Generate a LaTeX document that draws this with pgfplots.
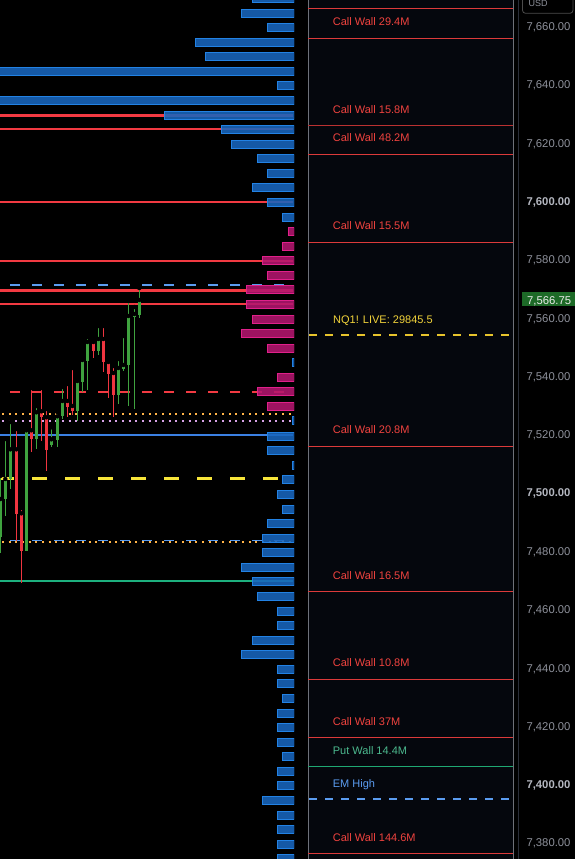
\documentclass[border=0pt]{standalone}
\usepackage{fontspec}
\setmainfont{Liberation Sans}
\usepackage{pgfplots}
\usepackage{pgfplotstable}
\pgfplotsset{compat=1.18}

\definecolor{panel}{HTML}{05070D}
\definecolor{pborder}{HTML}{6E7179}
\definecolor{sep}{HTML}{2A2E39}
\definecolor{wallred}{HTML}{DC3A3A}
\definecolor{walltext}{HTML}{F0433F}
\definecolor{lred}{HTML}{F23A42}
\definecolor{lgreen}{HTML}{1DB07E}
\definecolor{pgreen}{HTML}{1FA872}
\definecolor{lblue}{HTML}{3B80E2}
\definecolor{dblue}{HTML}{5B9CF0}
\definecolor{lyellow}{HTML}{F7E53A}
\definecolor{pyellow}{HTML}{E8C42C}
\definecolor{tyellow}{HTML}{F2D33A}
\definecolor{orng}{HTML}{FFB347}
\definecolor{lav}{HTML}{D6A2E6}
\definecolor{cgreen}{HTML}{3FA33F}
\definecolor{cred}{HTML}{F03540}
\definecolor{vblue}{HTML}{1866BE}
\definecolor{vblueb}{HTML}{2282E4}
\definecolor{vpink}{HTML}{B3166F}
\definecolor{vpinkb}{HTML}{E0208A}
\definecolor{tickc}{HTML}{8E919B}
\definecolor{tickb}{HTML}{B4B7C0}
\definecolor{pricebox}{HTML}{1D6A27}

% candles (pixel rows, y down): x, wick top, body top, body bottom, wick bottom
\pgfplotstableread{
x wt bt bb wb
0.5 476 499 537 553
5.3 439 479 499 515.7
10.3 422 449.3 479 489
26.3 428 430.3 550.7 551
36.3 406 412.3 438.7 448.7
51.3 427.3 439.3 444.7 446.7
57.3 412 416.3 439.7 446.7
62.3 387 401 416.3 418.7
77.3 378 381 411.3 421.3
82.3 358 360 382 392
87.3 337 342 361 390
98.3 326 339 351 355
118.3 359 368 395 404
123.3 336 365 369 371
128.3 301 316 365 406
134.3 307 314 317 409
139.3 288 300 315 318
}\greencandles
\pgfplotstableread{
x wt bt bb wb
16.3 429 449.3 514.3 541
21.3 508 513.3 550.7 582.7
31.3 388 430.3 438.7 451.7
41.3 388 411.3 417.3 440.7
46.3 409 417.3 449.7 470.7
67.3 384 401 406.5 416.7
72.3 368 406 411.3 415.3
93.3 339 342 351 358
103.3 326 339 362 372
108.3 359 362 374 398
113.3 366 373 395 417
}\redcandles

% volume profile: row centre, bar length
\pgfplotstableread{
y len
-1.3 41.7
13.5 52.7
27.8 26.7
42.5 98.7
56.8 88.7
71.8 300
85.8 16.7
100.8 300
115.2 129.7
129.7 72.7
144.3 62.7
158.8 36.7
173.3 26.7
187.8 41.7
202.8 26.7
217 11.7
362.8 1.2
420.5 1.2
436 26.7
450.5 26.7
465 1.2
479.5 11.7
494 16.7
509 11.7
523 26.7
538.2 31.7
552.5 31.7
567.2 52.7
581.5 41.7
596.2 36.7
611 16.7
625.2 16.7
640 41.7
654.5 52.7
669 16.7
683.5 16.7
698 11.7
713 16.7
727 16.7
742 16.7
756.5 11.7
771 16.7
785.5 16.7
800 31.7
815 16.7
829 16.7
844 16.7
858.5 16.7
}\bluebars
\pgfplotstableread{
y len
231.8 5.7
246.3 11.7
260.8 31.7
275.3 26.7
289.8 47.7
304.8 47.7
319 41.7
333.8 52.7
348.2 26.7
377.3 16.7
391.8 36.7
406.8 26.7
}\pinkbars

\begin{document}
\begin{tikzpicture}[font=\fontsize{11}{13}\selectfont]
\path[use as bounding box] (0,0) rectangle (575pt,859pt);
\begin{axis}[
  at={(0,0)}, anchor=south west,
  width=575pt, height=859pt, scale only axis,
  xmin=0, xmax=575, ymin=0, ymax=859, y dir=reverse,
  axis line style={draw=none},
  axis background/.style={fill=black},
  xtick=\empty,
  ytick={27.3,85.6,143.9,202.2,260.6,318.9,377.2,435.5,493.8,552.1,610.5,668.8,727.1,785.4,843.7},
  yticklabels={{7,660.00},{7,640.00},{7,620.00},{\textbf{\color{tickb}7,600.00}},{7,580.00},{7,560.00},{7,540.00},{7,520.00},{\textbf{\color{tickb}7,500.00}},{7,480.00},{7,460.00},{7,440.00},{7,420.00},{\textbf{\color{tickb}7,400.00}},{7,380.00}},
  yticklabel pos=right,
  major tick length=0pt,
  yticklabel style={anchor=west, xshift=-52pt, text=tickc, font=\fontsize{11.3}{13}\selectfont},
  clip=true,
]
% right panel background and borders
\fill[panel] (axis cs:308,-2) rectangle (axis cs:513,861);
\addplot[pborder, line width=1.3pt] coordinates {(308.5,-2) (308.5,861)};
\addplot[pborder, line width=1.3pt] coordinates {(513.5,-2) (513.5,861)};
\addplot[sep, line width=1pt] coordinates {(518.5,-2) (518.5,861)};

% right panel levels
\addplot[wallred, line width=1.4pt] coordinates {(308,8.5) (513,8.5)};
\addplot[wallred, line width=1.4pt] coordinates {(308,38.5) (513,38.5)};
\addplot[wallred!85!black, line width=1.3pt] coordinates {(308,125.5) (513,125.5)};
\addplot[wallred, line width=1.4pt] coordinates {(308,154.5) (513,154.5)};
\addplot[wallred, line width=1.4pt] coordinates {(308,242.5) (513,242.5)};
\addplot[pyellow, line width=2pt, dash pattern=on 8pt off 8pt] coordinates {(309,334.5) (513,334.5)};
\addplot[wallred, line width=1.4pt] coordinates {(308,446.5) (513,446.5)};
\addplot[wallred, line width=1.4pt] coordinates {(308,591.5) (513,591.5)};
\addplot[wallred, line width=1.4pt] coordinates {(308,679.5) (513,679.5)};
\addplot[wallred, line width=1.4pt] coordinates {(308,737.5) (513,737.5)};
\addplot[pgreen, line width=1.4pt] coordinates {(308,766.5) (513,766.5)};
\addplot[dblue, line width=2pt, dash pattern=on 8pt off 8pt] coordinates {(309,799) (513,799)};
\addplot[wallred, line width=1.4pt] coordinates {(308,853.5) (513,853.5)};

\node[anchor=base west, inner sep=0pt, text=walltext] at (axis cs:332.7,25.3) {Call Wall 29.4M};
\node[anchor=base west, inner sep=0pt, text=walltext] at (axis cs:332.7,113) {Call Wall 15.8M};
\node[anchor=base west, inner sep=0pt, text=walltext] at (axis cs:332.7,141.7) {Call Wall 48.2M};
\node[anchor=base west, inner sep=0pt, text=walltext] at (axis cs:332.7,229) {Call Wall 15.5M};
\node[anchor=base west, inner sep=0pt, text=tyellow] at (axis cs:333,323.3) {NQ1! LIVE: 29845.5};
\node[anchor=base west, inner sep=0pt, text=walltext] at (axis cs:332.7,433) {Call Wall 20.8M};
\node[anchor=base west, inner sep=0pt, text=walltext] at (axis cs:332.7,579.7) {Call Wall 16.5M};
\node[anchor=base west, inner sep=0pt, text=walltext] at (axis cs:332.7,666) {Call Wall 10.8M};
\node[anchor=base west, inner sep=0pt, text=walltext] at (axis cs:332.7,725.3) {Call Wall 37M};
\node[anchor=base west, inner sep=0pt, text=pgreen!80!white] at (axis cs:332.7,754.3) {Put Wall 14.4M};
\node[anchor=base west, inner sep=0pt, text=dblue] at (axis cs:332.7,787.7) {EM High};
\node[anchor=base west, inner sep=0pt, text=walltext] at (axis cs:332.7,841.3) {Call Wall 144.6M};

% price scale extras
\fill[pricebox] (axis cs:522.3,292.3) rectangle (axis cs:576,305.9);
\node[anchor=base west, inner sep=0pt, text=white!92!black, font=\fontsize{11.3}{13}\selectfont] at (axis cs:527,304.3) {7,566.75};
\draw[rounded corners=3pt, draw=white!30!black, fill=black, line width=0.8pt] (axis cs:522.5,-8) rectangle (axis cs:573,13.3);
\node[anchor=base, inner sep=0pt, text=tickc, font=\fontsize{9}{10}\selectfont] at (axis cs:538,7) {USD};

% left panel levels
\addplot[lred, line width=3pt] coordinates {(0,115.5) (293,115.5)};
\addplot[lred, line width=2.2pt] coordinates {(0,128.7) (293,128.7)};
\addplot[lred, line width=2.2pt] coordinates {(0,201.7) (293,201.7)};
\addplot[lred, line width=2.2pt] coordinates {(0,261) (293,261)};
\addplot[dblue, line width=2pt, dash pattern=on 10pt off 12pt] coordinates {(10,284.7) (284,284.7)};
\addplot[lred, line width=3pt] coordinates {(0,290.3) (293,290.3)};
\addplot[lred, line width=2.2pt] coordinates {(0,303.7) (293,303.7)};
\addplot[lred, line width=2pt, dash pattern=on 10pt off 12pt] coordinates {(10,392) (284,392)};
\addplot[orng, line width=2pt, dash pattern=on 2pt off 4.67pt] coordinates {(2,414) (293,414)};
\addplot[lav, line width=2pt, dash pattern=on 2pt off 4.67pt] coordinates {(2,421) (293,421)};
\addplot[lblue, line width=2.2pt] coordinates {(0,434.8) (293,434.8)};
\addplot[lyellow, line width=3pt, dash pattern=on 15pt off 18pt] coordinates {(-1,478.3) (279,478.3)};
\addplot[dblue, line width=1.8pt, dash pattern=on 10pt off 12pt] coordinates {(10,540.4) (284,540.4)};
\addplot[orng, line width=2pt, dash pattern=on 2pt off 4.67pt] coordinates {(2,542) (293,542)};
\addplot[lgreen, line width=2.2pt] coordinates {(0,581) (293,581)};

% candles: wicks
\addplot[only marks, mark=none, forget plot,
  error bars/.cd, y dir=plus, y explicit, error mark=none,
  error bar style={color=cgreen, line width=1.1pt}]
  table[x=x, y=wt, y error plus expr=\thisrow{wb}-\thisrow{wt}] {\greencandles};
\addplot[only marks, mark=none, forget plot,
  error bars/.cd, y dir=plus, y explicit, error mark=none,
  error bar style={color=cred, line width=1.1pt}]
  table[x=x, y=wt, y error plus expr=\thisrow{wb}-\thisrow{wt}] {\redcandles};
% candles: bodies
\addplot[only marks, mark=none, forget plot,
  error bars/.cd, y dir=plus, y explicit, error mark=none,
  error bar style={color=cgreen, line width=3pt}]
  table[x=x, y=bt, y error plus expr=\thisrow{bb}-\thisrow{bt}] {\greencandles};
\addplot[only marks, mark=none, forget plot,
  error bars/.cd, y dir=plus, y explicit, error mark=none,
  error bar style={color=cred, line width=3pt}]
  table[x=x, y=bt, y error plus expr=\thisrow{bb}-\thisrow{bt}] {\redcandles};
\end{axis}

% volume profile (right-aligned at x = 294)
\begin{axis}[
  at={(0,0)}, anchor=south west,
  width=294pt, height=859pt, scale only axis,
  xmin=0, xmax=294, x dir=reverse,
  ymin=0, ymax=859, y dir=reverse,
  hide axis, clip=true,
]
\addplot[xbar, bar width=8, bar shift=0pt, fill=vblue, draw=vblueb, line width=0.9pt, fill opacity=0.88]
  table[x=len, y=y] {\bluebars};
\addplot[xbar, bar width=8, bar shift=0pt, fill=vpink, draw=vpinkb, line width=0.9pt, fill opacity=0.88]
  table[x=len, y=y] {\pinkbars};
\end{axis}
\end{tikzpicture}
\end{document}
